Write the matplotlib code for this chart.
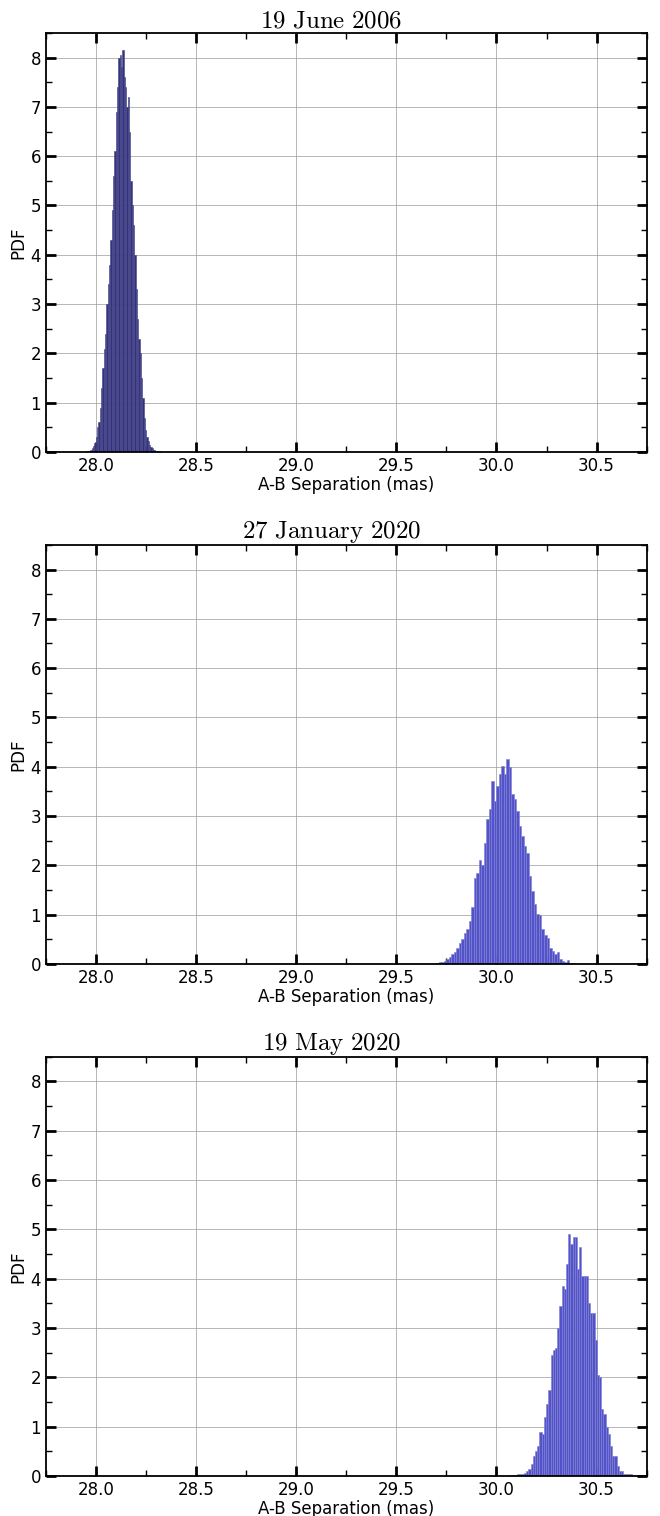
import numpy as np
import matplotlib
matplotlib.use("Agg")
import matplotlib.pyplot as plt
from matplotlib.ticker import MultipleLocator

plt.rcParams['mathtext.fontset'] = 'cm'

titles = ["19 June 2006", "27 January 2020", "19 May 2020"]

# histogram 1 (2006): left edge of first bin, bin width, PDF heights
start_2006 = 27.919
width_2006 = 0.00663
pdf_2006 = [0.005, 0.005, 0.01, 0.01, 0.01, 0.02, 0.02, 0.03, 0.05, 0.08,
            0.12, 0.18, 0.3, 0.5, 0.6, 0.9, 1.3, 1.7, 2.1, 2.4,
            3.0, 3.4, 3.8, 4.3, 4.9, 5.6, 6.1, 6.9, 7.4, 8.0,
            8.05, 7.8, 8.15, 7.6, 7.4, 7.0, 7.2, 6.5, 5.5, 5.0,
            4.6, 4.0, 3.3, 2.7, 2.3, 2.0, 1.5, 1.1, 0.7, 0.45,
            0.3, 0.22, 0.15, 0.1, 0.08, 0.05, 0.05, 0.03, 0.03, 0.02,
            0.02, 0.01, 0.01]

# histogram 2 (Jan 2020)
start_jan = 29.625
width_jan = 0.0125
pdf_jan = [0.005, 0.0, 0.005, 0.005, 0.01, 0.01, 0.02, 0.05, 0.04, 0.07,
           0.1, 0.15, 0.2, 0.25, 0.32, 0.42, 0.5, 0.62, 0.72, 0.88,
           1.15, 1.75, 1.85, 2.1, 2.0, 2.45, 2.95, 3.15, 3.72, 3.3,
           3.6, 3.85, 4.02, 3.85, 4.15, 4.0, 3.45, 3.35, 3.1, 2.8,
           2.6, 2.4, 2.25, 1.78, 1.48, 1.22, 1.02, 1.0, 0.72, 0.58,
           0.52, 0.32, 0.27, 0.2, 0.25, 0.1, 0.06, 0.05, 0.08, 0.02,
           0.02, 0.01, 0.005]

# histogram 3 (May 2020)
start_may = 30.05
width_may = 0.011
pdf_may = [0.005, 0.01, 0.01, 0.02, 0.02, 0.03, 0.05, 0.05, 0.07,
           0.1, 0.15, 0.25, 0.4, 0.5, 0.6, 0.9, 0.85, 1.2, 1.45,
           1.75, 2.45, 2.55, 2.6, 3.0, 3.45, 3.85, 3.8, 4.3, 4.9,
           4.7, 4.85, 4.85, 4.2, 4.65, 4.05, 4.05, 4.05, 3.5, 3.3,
           3.3, 2.75, 2.05, 2.0, 1.35, 1.25, 1.0, 0.85, 0.6, 0.4,
           0.4, 0.2, 0.1, 0.1, 0.05, 0.04, 0.03, 0.03, 0.02, 0.01]

hists = [(start_2006, width_2006, pdf_2006),
         (start_jan, width_jan, pdf_jan),
         (start_may, width_may, pdf_may)]
faces = ['#33337c', '#5252cc', '#5252cc']
edges = ['#45458a', '#8080cc', '#8080cc']

fig = plt.figure(figsize=(6.6, 15.16), dpi=100)
bottoms = [0.7018, 0.3641, 0.0264]

for k in range(3):
    ax = fig.add_axes([0.0697, bottoms[k], 0.910, 0.2765])
    start, w, pdf = hists[k]
    lefts = start + w * np.arange(len(pdf))
    ax.bar(lefts, pdf, width=w, align='edge', color=faces[k],
           edgecolor=edges[k], linewidth=0.4, zorder=2)
    ax.set_xlim(27.75, 30.75)
    ax.set_ylim(0, 8.5)
    ax.xaxis.set_major_locator(MultipleLocator(0.5))
    ax.xaxis.set_minor_locator(MultipleLocator(0.25))
    ax.yaxis.set_major_locator(MultipleLocator(1))
    ax.yaxis.set_minor_locator(MultipleLocator(0.5))
    ax.tick_params(which='both', direction='in', top=True, right=True,
                   labelsize=12)
    ax.tick_params(which='major', length=7, width=2)
    ax.tick_params(which='minor', length=4, width=1)
    ax.grid(True, which='major', color='#9a9a9a', linewidth=0.5, zorder=0)
    ax.set_axisbelow(True)
    for s in ax.spines.values():
        s.set_linewidth(1.3)
    ax.set_xlabel('A-B Separation (mas)', fontsize=12, labelpad=1)
    ax.set_ylabel('PDF', fontsize=12, labelpad=2)
    ax.set_title(r'$\mathrm{' + titles[k].replace(' ', r'\ ') + '}$',
                 fontsize=18, pad=4, x=0.475)

fig.savefig('out.png', dpi=100)
